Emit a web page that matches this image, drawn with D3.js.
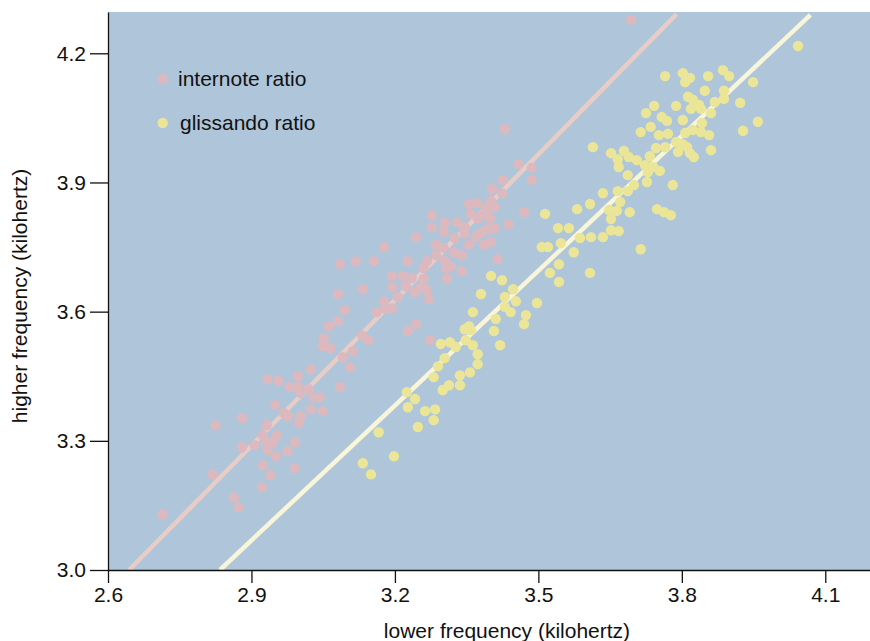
<!DOCTYPE html>
<html>
<head>
<meta charset="utf-8">
<script src="https://cdn.jsdelivr.net/npm/d3@7"></script>
<style>
  body { margin: 0; background: #fff; }
  svg { display: block; }
</style>
</head>
<body>
<svg id="chart" width="870" height="641"></svg>
<script>
// internote ratio: [lower kHz, higher kHz]
const internote = [
  [2.714,3.129],[2.819,3.222],[2.863,3.169],[2.873,3.146],[2.825,3.336],[2.880,3.353],[2.880,3.285],
  [2.922,3.192],[2.940,3.220],[2.924,3.243],[2.907,3.290],[2.924,3.313],[2.934,3.278],[2.951,3.264],
  [2.953,3.313],[2.945,3.297],[2.930,3.297],[2.976,3.276],[2.991,3.236],[2.991,3.297],[2.932,3.336],
  [2.949,3.383],[2.968,3.364],[2.976,3.357],[2.999,3.341],[3.003,3.357],[3.024,3.373],[3.049,3.369],
  [2.980,3.425],[2.997,3.425],[3.003,3.411],[3.020,3.420],[3.030,3.401],[3.043,3.401],[3.085,3.425],
  [2.934,3.443],[2.957,3.439],[2.997,3.450],[3.024,3.466],[3.051,3.538],[3.049,3.520],[3.066,3.515],
  [3.091,3.494],[3.106,3.471],[3.112,3.508],[3.062,3.566],[3.081,3.578],[3.095,3.604],[3.081,3.641],
  [3.085,3.710],[3.118,3.717],[3.156,3.717],[3.177,3.750],[3.133,3.652],[3.131,3.545],[3.145,3.534],
  [3.162,3.599],[3.177,3.624],[3.181,3.606],[3.194,3.608],[3.194,3.657],[3.194,3.683],[3.206,3.634],
  [3.217,3.683],[3.223,3.659],[3.235,3.678],[3.242,3.645],[3.254,3.657],[3.260,3.676],[3.267,3.650],
  [3.271,3.629],[3.227,3.717],[3.244,3.773],[3.267,3.717],[3.260,3.701],[3.227,3.555],[3.244,3.571],
  [3.273,3.534],[3.277,3.824],[3.277,3.796],[3.286,3.755],[3.302,3.748],[3.286,3.731],[3.304,3.806],
  [3.302,3.785],[3.304,3.717],[3.307,3.701],[3.317,3.706],[3.309,3.676],[3.323,3.738],[3.340,3.731],
  [3.325,3.771],[3.330,3.808],[3.340,3.694],[3.346,3.796],[3.346,3.782],[3.355,3.755],[3.355,3.850],
  [3.371,3.852],[3.359,3.827],[3.369,3.773],[3.373,3.817],[3.384,3.824],[3.378,3.782],[3.388,3.787],
  [3.396,3.792],[3.409,3.794],[3.401,3.762],[3.386,3.755],[3.392,3.829],[3.399,3.817],[3.409,3.843],
  [3.401,3.857],[3.390,3.841],[3.403,3.885],[3.424,3.875],[3.426,3.906],[3.415,3.722],[3.438,3.803],
  [3.470,3.831],[3.430,4.024],[3.459,3.943],[3.486,3.934],[3.486,3.906],[3.694,4.278]
];

// glissando ratio: [lower kHz, higher kHz]
const glissando = [
  [3.133,3.248],[3.150,3.222],[3.198,3.264],[3.166,3.320],[3.248,3.332],[3.263,3.369],[3.284,3.373],
  [3.281,3.348],[3.225,3.413],[3.242,3.397],[3.227,3.378],[3.281,3.448],[3.300,3.418],[3.313,3.429],
  [3.336,3.429],[3.336,3.452],[3.357,3.459],[3.290,3.473],[3.304,3.492],[3.373,3.501],[3.373,3.478],
  [3.296,3.525],[3.315,3.529],[3.327,3.518],[3.348,3.534],[3.363,3.522],[3.346,3.559],[3.355,3.566],
  [3.359,3.557],[3.363,3.599],[3.380,3.641],[3.401,3.683],[3.424,3.673],[3.411,3.583],[3.407,3.555],
  [3.420,3.522],[3.430,3.634],[3.447,3.652],[3.453,3.624],[3.430,3.611],[3.442,3.599],[3.474,3.592],
  [3.470,3.571],[3.497,3.620],[3.524,3.690],[3.543,3.710],[3.543,3.669],[3.574,3.738],[3.507,3.750],
  [3.520,3.750],[3.547,3.759],[3.541,3.794],[3.564,3.794],[3.514,3.827],[3.587,3.771],[3.610,3.773],
  [3.635,3.773],[3.652,3.789],[3.668,3.787],[3.608,3.690],[3.714,3.745],[3.581,3.838],[3.608,3.850],
  [3.635,3.875],[3.648,3.836],[3.664,3.834],[3.652,3.815],[3.691,3.831],[3.671,3.855],[3.666,3.880],
  [3.687,3.880],[3.700,3.894],[3.687,3.917],[3.727,3.901],[3.781,3.894],[3.748,3.838],[3.763,3.831],
  [3.777,3.824],[3.614,3.982],[3.652,3.968],[3.666,3.954],[3.668,3.936],[3.679,3.973],[3.689,3.959],
  [3.706,3.952],[3.723,3.940],[3.729,3.924],[3.733,3.961],[3.746,3.980],[3.740,3.936],[3.754,3.927],
  [3.765,3.982],[3.714,4.017],[3.752,4.010],[3.771,4.013],[3.735,4.029],[3.788,3.994],[3.792,3.971],
  [3.802,3.989],[3.811,3.982],[3.817,3.968],[3.825,3.959],[3.807,4.015],[3.823,4.022],[3.840,4.017],
  [3.857,4.010],[3.861,3.975],[3.928,4.020],[3.959,4.041],[3.842,4.038],[3.802,4.045],[3.758,4.052],
  [3.769,4.043],[3.742,4.078],[3.725,4.061],[3.788,4.078],[3.813,4.099],[3.823,4.092],[3.819,4.071],
  [3.836,4.080],[3.840,4.071],[3.861,4.061],[3.922,4.085],[3.848,4.113],[3.888,4.113],[3.888,4.094],
  [3.869,4.087],[3.765,4.147],[3.802,4.154],[3.817,4.143],[3.807,4.133],[3.855,4.147],[3.886,4.161],
  [3.899,4.147],[3.949,4.133],[4.043,4.217]
];

// fitted lines, end points in kHz
const internoteFit = [[2.644,3.0],[3.789,4.291]];
const glissandoFit = [[2.834,3.0],[4.069,4.289]];

const xTicks = [2.6,2.9,3.2,3.5,3.8,4.1];
const yTicks = [3.0,3.3,3.6,3.9,4.2];
const seriesNames = ['internote ratio','glissando ratio'];
const dotColors = ['#dcb9be','#ebe697'];
const lineColors = ['#e8cdc6','#f8f5d8'];

const font = '"Liberation Sans", Arial, Helvetica, sans-serif';
const fs = 21;
const svg = d3.select('#chart');
const mLeft = 108, mTop = 12, mRight = 870, mBottom = 570;

const x = d3.scaleLinear().domain([2.6, 4.1935]).range([mLeft, mRight]);
const y = d3.scaleLinear().domain([3.0, 4.2959]).range([mBottom, mTop]);

svg.append('rect')
  .attr('x', mLeft).attr('y', mTop)
  .attr('width', mRight - mLeft).attr('height', mBottom - mTop)
  .attr('fill', '#afc5d9');

const line = d3.line().x(d => x(d[0])).y(d => y(d[1]));
[internoteFit, glissandoFit].forEach((fit, i) => {
  svg.append('path').datum(fit)
    .attr('d', line)
    .attr('stroke', lineColors[i]).attr('stroke-width', 4.5)
    .attr('fill', 'none');
});

[internote, glissando].forEach((pts, i) => {
  svg.append('g').selectAll('circle').data(pts).join('circle')
    .attr('cx', d => x(d[0])).attr('cy', d => y(d[1]))
    .attr('r', 5.2).attr('fill', dotColors[i]);
});

// legend
const legend = svg.append('g');
seriesNames.forEach((name, i) => {
  legend.append('circle').attr('cx', 162.7).attr('cy', 79 + i * 44).attr('r', 5.2).attr('fill', dotColors[i]);
  legend.append('text').attr('x', 178 + i * 2).attr('y', 79 + i * 44).attr('dy', '0.35em')
    .attr('font-family', font).attr('font-size', fs).attr('fill', '#111')
    .text(name);
});

const xAxis = svg.append('g').attr('transform', `translate(0,${mBottom})`)
  .call(d3.axisBottom(x).tickValues(xTicks).tickFormat(d3.format('.1f'))
    .tickSizeInner(13).tickSizeOuter(0).tickPadding(4));
const yAxis = svg.append('g').attr('transform', `translate(${mLeft},0)`)
  .call(d3.axisLeft(y).tickValues(yTicks).tickFormat(d3.format('.1f'))
    .tickSizeInner(18).tickSizeOuter(0).tickPadding(4));
[xAxis, yAxis].forEach(a => {
  a.attr('font-family', font).attr('font-size', fs);
  a.selectAll('text').attr('fill', '#111');
  a.selectAll('path, line').attr('stroke', '#111').attr('stroke-width', 1.3);
});

svg.append('text')
  .attr('x', 507).attr('y', 638)
  .attr('text-anchor', 'middle')
  .attr('font-family', font).attr('font-size', fs).attr('fill', '#111')
  .text('lower frequency (kilohertz)');

svg.append('text')
  .attr('transform', 'translate(27,296) rotate(-90)')
  .attr('text-anchor', 'middle')
  .attr('font-family', font).attr('font-size', fs).attr('fill', '#111')
  .text('higher frequency (kilohertz)');
</script>
</body>
</html>
